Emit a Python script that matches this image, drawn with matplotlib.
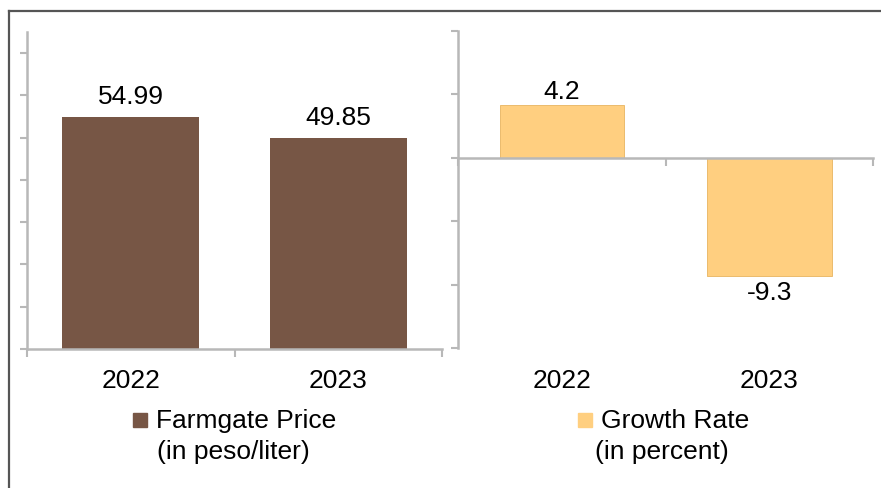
import matplotlib
matplotlib.use("Agg")
import matplotlib.pyplot as plt
from matplotlib.patches import Rectangle
import matplotlib.transforms as mtransforms

plt.rcParams['font.family'] = ['Liberation Sans', 'DejaVu Sans']

years = ['2022', '2023']
price = [54.99, 49.85]
growth = [4.2, -9.3]

brown = '#775645'
orange = '#ffcf80'
axis_grey = '#b8b8b8'
fs = 19

W, H = 881, 489
fig = plt.figure(figsize=(W / 100, H / 100), dpi=100)

def px_axes(x0, y0, x1, y1):
    # axes box from pixel coords (top-left origin)
    return fig.add_axes([x0 / W, 1 - y1 / H, (x1 - x0) / W, (y1 - y0) / H])

def style(ax):
    for s in ['top', 'right']:
        ax.spines[s].set_visible(False)
    for s in ['left', 'bottom']:
        ax.spines[s].set_color(axis_grey)
        ax.spines[s].set_linewidth(1.8)
    ax.tick_params(axis='y', length=5, width=1.5, color=axis_grey, labelleft=False)
    ax.tick_params(axis='x', direction='out', length=6, width=1.5, color=axis_grey,
                   labelbottom=False)
    ax.set_xlim(-0.5, 1.5)
    ax.set_xticks([-0.5, 0.5, 1.5])
    ax.patch.set_alpha(0)

# farmgate price
ax1 = px_axes(27, 33, 442, 350)
style(ax1)
b1 = ax1.bar(range(len(years)), price, width=0.66, color=brown)
ax1.set_ylim(0, 75)
ax1.set_yticks(range(0, 80, 10))
for i, v in enumerate(price):
    ax1.annotate(f'{v:.2f}', (i, v), xytext=(0, 10), textcoords='offset points',
                 ha='center', va='baseline', fontsize=fs)

# growth rate
ax2 = px_axes(458, 32, 873, 349)
style(ax2)
ax2.spines['bottom'].set_position(('data', 0))
b2 = ax2.bar(range(len(years)), growth, width=0.6, color=orange,
             edgecolor='#e8b460', linewidth=0.6)
ax2.set_ylim(-15, 10)
ax2.set_yticks(range(-15, 15, 5))
for i, v in enumerate(growth):
    if v >= 0:
        ax2.annotate(f'{v:.1f}', (i, v), xytext=(0, 4.5), textcoords='offset points',
                     ha='center', va='baseline', fontsize=fs)
    else:
        ax2.annotate(f'{v:.1f}', (i, v), xytext=(0, -3), textcoords='offset points',
                     ha='center', va='top', fontsize=fs)

# category labels below both plots
for ax in (ax1, ax2):
    tr = mtransforms.blended_transform_factory(ax.transData, fig.transFigure)
    for i, y in enumerate(years):
        ax.text(i, 1 - 381 / H, y, transform=tr, ha='center', va='center', fontsize=fs)

# legend entries
def legend_entry(x, y, color, line1, line2, x2):
    fig.patches.append(Rectangle((x / W, 1 - (y + 7) / H), 14 / W, 14 / H,
                                 transform=fig.transFigure, color=color))
    fig.text((x + 23) / W, 1 - y / H, line1, ha='left', va='center', fontsize=fs)
    fig.text(x2 / W, 1 - (y + 31) / H, line2, ha='left', va='center', fontsize=fs)

legend_entry(133, 421, brown, 'Farmgate Price', '(in peso/liter)', 157)
legend_entry(578, 421, orange, 'Growth Rate', '(in percent)', 595)

# outer frame (left and top edges visible)
fig.add_artist(plt.Line2D([8.5 / W, 8.5 / W], [0, 1 - 12 / H], transform=fig.transFigure,
                          color='#555555', linewidth=1.6))
fig.add_artist(plt.Line2D([8.5 / W, 1], [1 - 12 / H, 1 - 12 / H], transform=fig.transFigure,
                          color='#555555', linewidth=1.6))

fig.savefig('out.png', dpi=100)
